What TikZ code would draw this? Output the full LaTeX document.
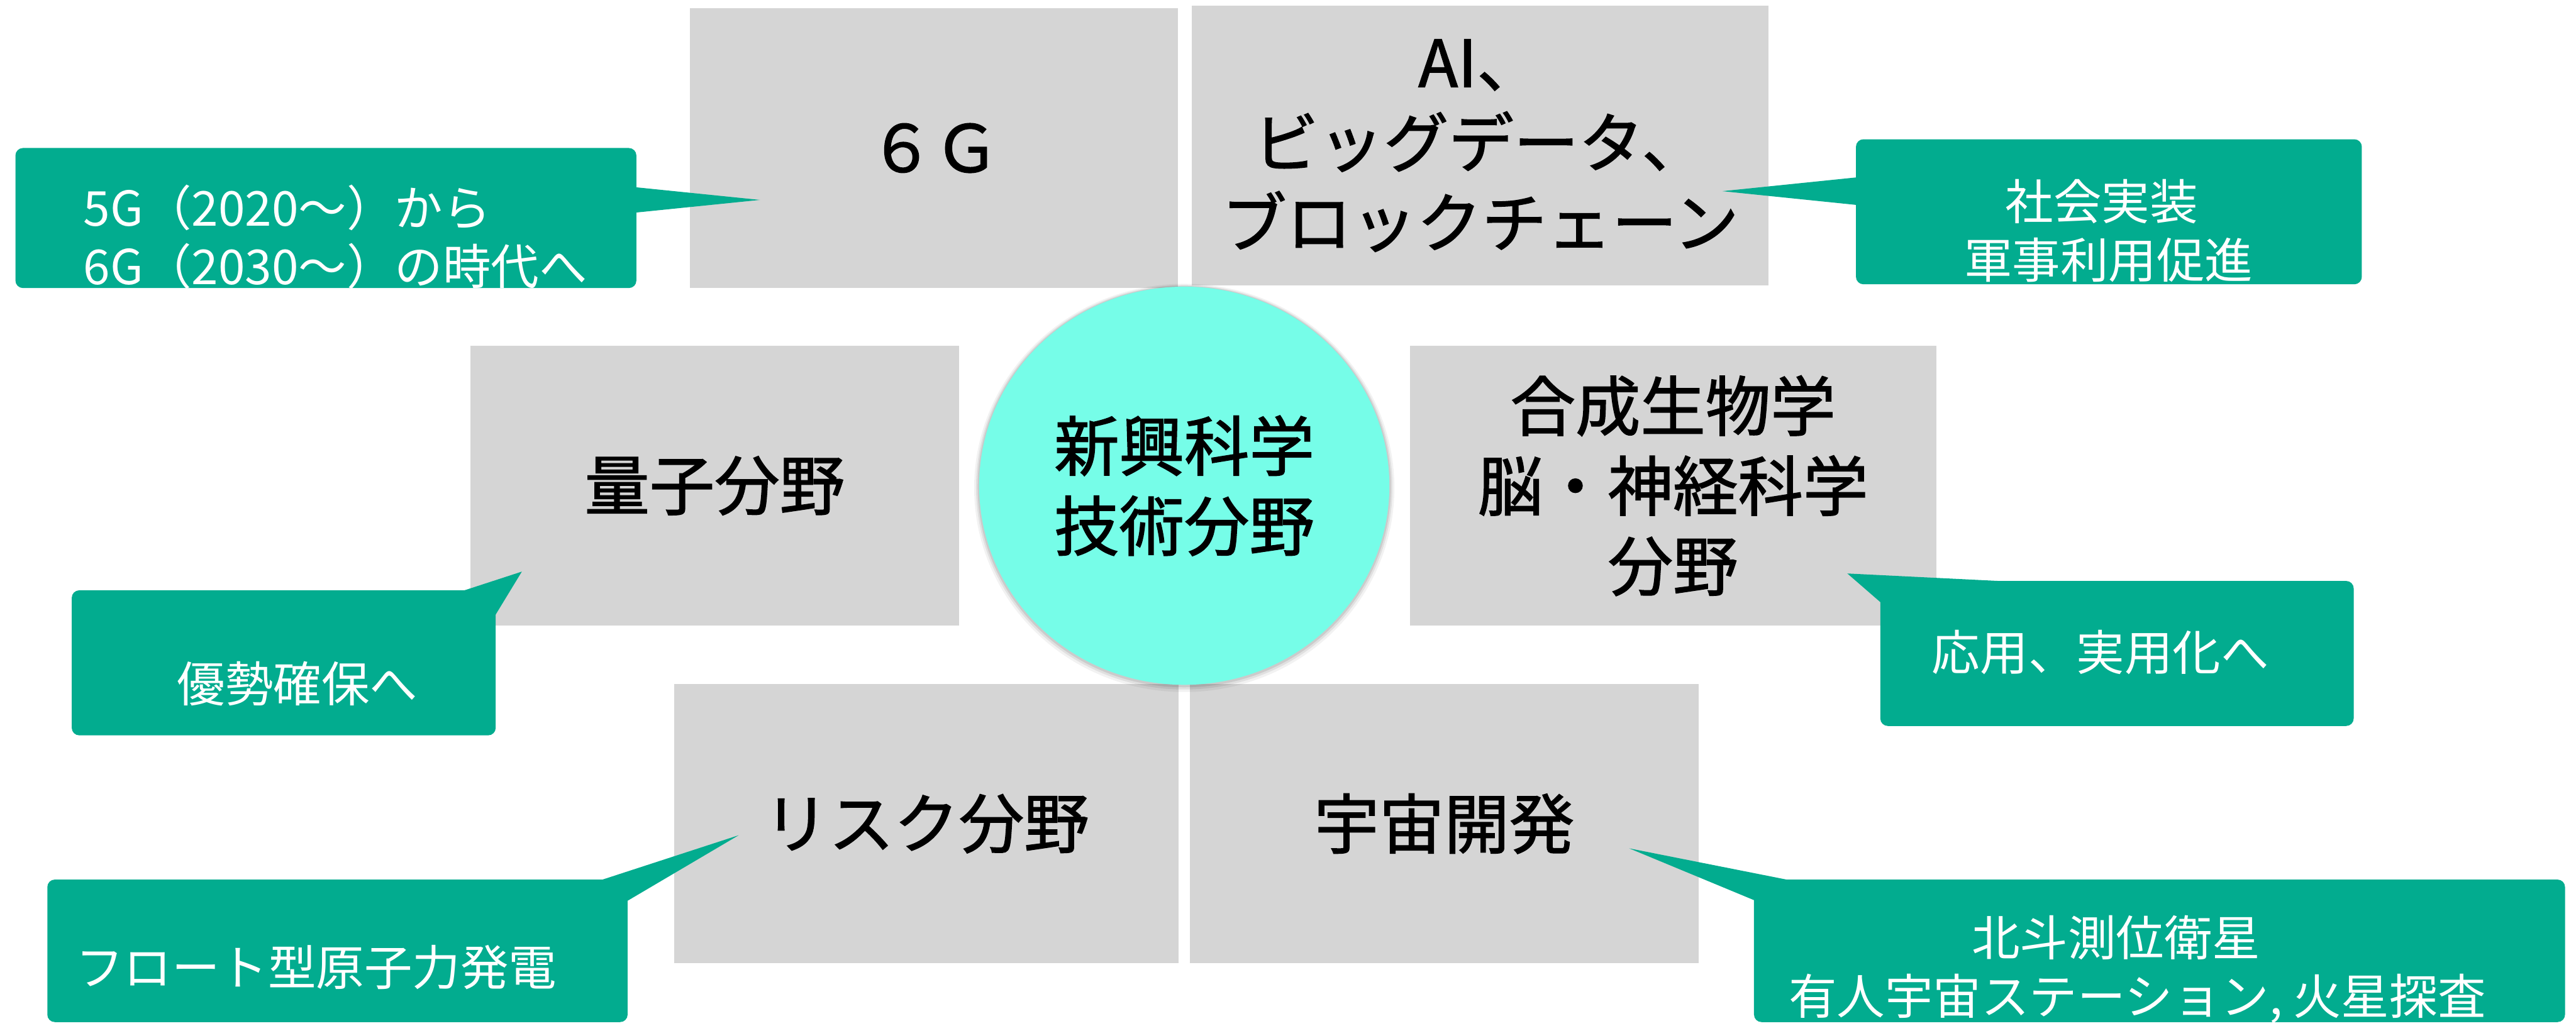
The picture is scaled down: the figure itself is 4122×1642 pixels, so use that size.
\documentclass[tikz,border=0pt]{standalone}
\usepackage{fontspec}
\usetikzlibrary{shapes.geometric}
\newfontfamily\jp{Noto Sans CJK JP}
\newfontfamily\jpm{Noto Sans CJK JP}[FakeBold=1.5]
\definecolor{boxgray}{HTML}{D5D5D5}
\definecolor{callgreen}{HTML}{02AC8F}
\definecolor{coreteal}{HTML}{76FDE8}
\tikzset{
  gbox/.style={fill=boxgray, draw=none, inner sep=0pt, align=center, text=black,
    font=\jpm\fontsize{29.6pt}{36.4pt}\selectfont},
  cbox/.style={fill=callgreen, draw=none, rounded corners=0.12cm, inner sep=0pt},
  ctext/.style={text=white, inner sep=0pt, font=\jp\fontsize{21.9pt}{26.5pt}\selectfont},
  ptr/.style={fill=callgreen, draw=none},
  shade/.style={fill=black, draw=none, ellipse, inner sep=0pt},
}
\begin{document}
\begin{tikzpicture}[x=0.01cm, y=-0.01cm]
\useasboundingbox (0,0) rectangle (4122,1642);
\fill[white] (0,0) rectangle (4122,1642);

% grey topic boxes
\node[gbox, minimum width=7.81cm, minimum height=4.48cm] (g6g) at (1494.5,237) {６Ｇ};
\node[gbox, minimum width=9.23cm, minimum height=4.48cm] (gai) at (2368.5,233) {AI、\\ビッグデータ、\\ブロックチェーン};
\node[gbox, minimum width=7.81cm, minimum height=4.47cm] (gq) at (1143.5,777.5) {量子分野};
\node[gbox, minimum width=8.42cm, minimum height=4.47cm] (gbio) at (2677,777.5) {合成生物学\\脳・神経科学\\分野};
\node[gbox, minimum width=8.07cm, minimum height=4.47cm] (grisk) at (1482.5,1318.5) {リスク分野};
\node[gbox, minimum width=8.14cm, minimum height=4.47cm] (gspace) at (2311,1318.5) {宇宙開発};

% central ellipse with soft shadow
\node[shade, opacity=0.05, minimum width=6.72cm, minimum height=6.53cm] (sh1) at (1895,781) {};
\node[shade, opacity=0.07, minimum width=6.66cm, minimum height=6.47cm] (sh2) at (1895,780) {};
\node[shade, opacity=0.09, minimum width=6.61cm, minimum height=6.42cm] (sh3) at (1895,779) {};
\node[ellipse, fill=coreteal, draw=none, inner sep=0pt, align=center,
  minimum width=6.56cm, minimum height=6.37cm,
  font=\jpm\fontsize{29.6pt}{36.4pt}\selectfont] (core) at (1895,777.5) {新興科学\\技術分野};

% callout boxes
\node[cbox, minimum width=9.93cm, minimum height=2.24cm] (c1) at (521.5,349) {};
\node[cbox, minimum width=8.09cm, minimum height=2.32cm] (c2) at (3374.5,339) {};
\node[cbox, minimum width=6.78cm, minimum height=2.32cm] (c3) at (454,1061) {};
\node[cbox, minimum width=7.57cm, minimum height=2.32cm] (c4) at (3387.5,1046) {};
\node[cbox, minimum width=9.28cm, minimum height=2.28cm] (c5) at (540,1522) {};
\node[cbox, minimum width=12.97cm, minimum height=2.28cm] (c6) at (3455.5,1522) {};

% pointer tips
\coordinate (t1) at (1216,320);
\coordinate (t2) at (2756,306);
\coordinate (t3) at (835,915);
\coordinate (t4) at (2956,918);
\coordinate (t5) at (1182,1337);
\coordinate (t6) at (2607,1358);

\fill[ptr] (1010,299) -- (t1) -- (1010,341) -- cycle;
\fill[ptr] (2980,283) -- (t2) -- (2980,329) -- cycle;
\fill[ptr] (743,945) -- (t3) -- (793,984) -- cycle;
\fill[ptr] (3199,930) -- (t4) -- (3009,964) -- cycle;
\fill[ptr] (964,1408) -- (t5) -- (1004,1442) -- cycle;
\fill[ptr] (2859,1408) -- (t6) -- (2807,1441) -- cycle;

% callout texts
\node[ctext, anchor=base west] (c1a) at (133,362) {5G（2020～）から};
\node[ctext, anchor=base west] (c1b) at (133,455) {6G（2030～）の時代へ};
\node[ctext, anchor=base] (c2a) at (3363,352) {社会実装};
\node[ctext, anchor=base] (c2b) at (3374,445) {軍事利用促進};
\node[ctext, anchor=base] (c3a) at (476,1124) {優勢確保へ};
\node[ctext, anchor=base] (c4a) at (3361,1073) {応用、実用化へ};
\node[ctext, anchor=base] (c5a) at (506,1577) {フロート型原子力発電};
\node[ctext, anchor=base] (c6a) at (3386,1530) {北斗測位衛星};
\node[ctext, anchor=base] (c6b) at (3420,1624) {有人宇宙ステーション, 火星探査};
\end{tikzpicture}
\end{document}
